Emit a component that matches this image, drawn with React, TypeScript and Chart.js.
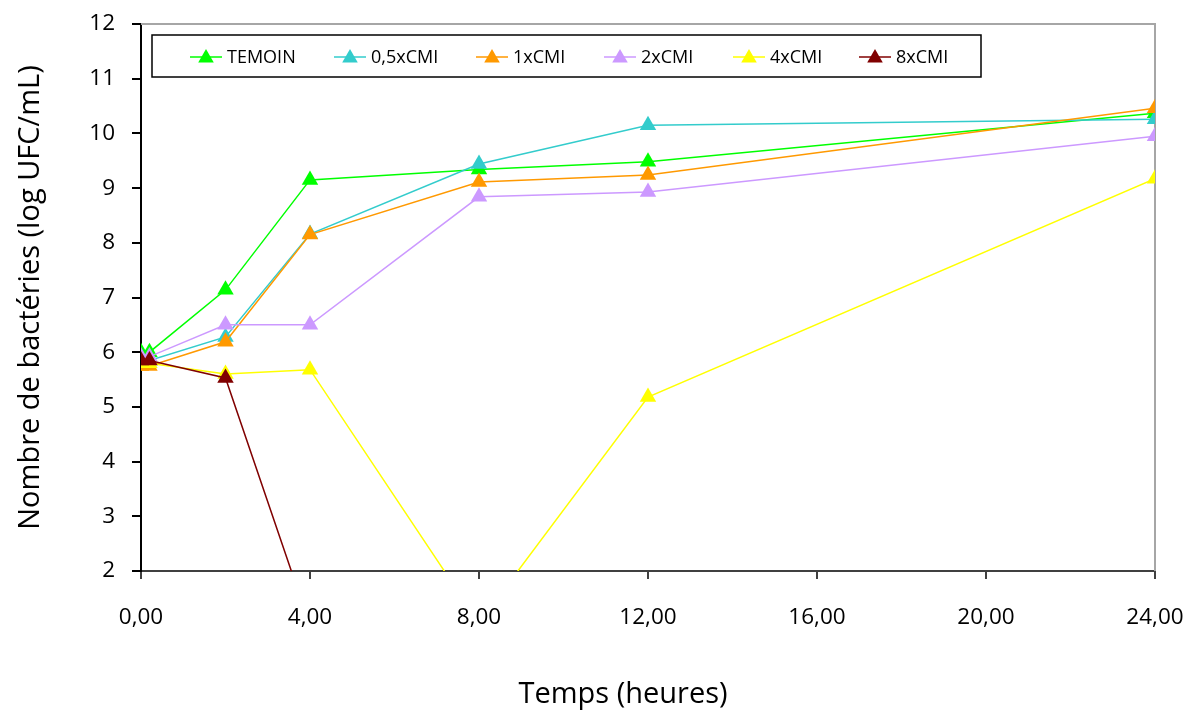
import React, { useEffect, useRef } from "react";
import { Chart, registerables } from "chart.js";

Chart.register(...registerables);

// ---- data ----
const times = [0, 0.2, 2, 4, 8, 12, 24];
const seriesNames = ["TEMOIN", "0,5xCMI", "1xCMI", "2xCMI", "4xCMI", "8xCMI"];
const temoin = [6.0, 6.0, 7.14, 9.15, 9.34, 9.48, 10.37];
const cmi05 = [5.85, 5.85, 6.28, 8.16, 9.44, 10.15, 10.26];
const cmi1 = [5.75, 5.75, 6.19, 8.15, 9.11, 9.24, 10.46];
const cmi2 = [5.92, 5.92, 6.5, 6.5, 8.84, 8.93, 9.95];
const cmi4 = [5.8, 5.8, 5.6, 5.68, 1.05, 5.18, 9.17];
const cmi8 = [5.85, 5.85, 5.53, 1.0];
const xTicks = [0, 4, 8, 12, 16, 20, 24];
const yTicks = [2, 3, 4, 5, 6, 7, 8, 9, 10, 11, 12];

const seriesValues = [temoin, cmi05, cmi1, cmi2, cmi4, cmi8];
const seriesColors = ["#00FF00", "#33CCCC", "#FF9900", "#CC99FF", "#FFFF00", "#800000"];

const FONT = "'Open Sans', 'DejaVu Sans', sans-serif";
const legendItemX = [190, 334, 476, 604, 733, 859];

function drawTriangle(ctx: CanvasRenderingContext2D, x: number, y: number, r: number, color: string) {
  ctx.beginPath();
  for (let k = 0; k < 3; k++) {
    const a = -Math.PI / 2 + (k * 2 * Math.PI) / 3;
    const px = x + r * Math.cos(a);
    const py = y + r * Math.sin(a);
    if (k === 0) ctx.moveTo(px, py);
    else ctx.lineTo(px, py);
  }
  ctx.closePath();
  ctx.fillStyle = color;
  ctx.fill();
}

const decorPlugin = {
  id: "decor",
  beforeDatasetsDraw(chart: any) {
    const { ctx, chartArea } = chart;
    ctx.save();
    ctx.strokeStyle = "#A6A6A6";
    ctx.lineWidth = 2;
    ctx.beginPath();
    ctx.moveTo(chartArea.left, chartArea.top);
    ctx.lineTo(chartArea.right, chartArea.top);
    ctx.lineTo(chartArea.right, chartArea.bottom);
    ctx.stroke();
    ctx.restore();
  },
  afterDraw(chart: any) {
    const { ctx, chartArea } = chart;
    ctx.save();
    // legend box
    const bx = 152, by = 35, bw = 981 - 152, bh = 77 - 35;
    ctx.fillStyle = "#FFFFFF";
    ctx.fillRect(bx, by, bw, bh);
    ctx.strokeStyle = "#000000";
    ctx.lineWidth = 1.5;
    ctx.strokeRect(bx, by, bw, bh);
    const cy = 57;
    ctx.font = `18px ${FONT}`;
    ctx.textBaseline = "middle";
    ctx.textAlign = "left";
    seriesNames.forEach((name, i) => {
      const x0 = legendItemX[i];
      const color = seriesColors[i];
      ctx.strokeStyle = color;
      ctx.lineWidth = 1.5;
      ctx.beginPath();
      ctx.moveTo(x0, cy);
      ctx.lineTo(x0 + 32, cy);
      ctx.stroke();
      drawTriangle(ctx, x0 + 16, cy + 1, 9, color);
      ctx.fillStyle = "#000000";
      ctx.fillText(name, x0 + 37, cy + 1);
    });
    // axis titles
    ctx.fillStyle = "#000000";
    ctx.font = `29px ${FONT}`;
    ctx.textAlign = "center";
    ctx.textBaseline = "middle";
    ctx.fillText("Temps (heures)", 623, 695);
    ctx.save();
    ctx.translate(31, (chartArea.top + chartArea.bottom) / 2);
    ctx.rotate(-Math.PI / 2);
    ctx.fillText("Nombre de bactéries (log UFC/mL)", 0, 0);
    ctx.restore();
    ctx.restore();
  },
};

export default function App() {
  const canvasRef = useRef<HTMLCanvasElement | null>(null);

  useEffect(() => {
    if (!canvasRef.current) return;
    const n = seriesNames.length;
    const datasets = seriesNames.map((name, i) => ({
      label: name,
      data: seriesValues[i].map((v, j) => ({ x: times[j], y: v })),
      borderColor: seriesColors[i],
      backgroundColor: seriesColors[i],
      pointBackgroundColor: seriesColors[i],
      pointBorderColor: seriesColors[i],
      borderWidth: 1.5,
      pointStyle: "triangle",
      pointRadius: 9.5,
      pointBorderWidth: 0,
      tension: 0,
      order: n - 1 - i,
      showLine: true,
    }));

    const chart = new Chart(canvasRef.current, {
      type: "scatter",
      data: { datasets },
      options: {
        animation: false,
        responsive: false,
        layout: { padding: { top: 24, right: 37, left: 0, bottom: 0 } },
        plugins: {
          legend: { display: false },
          tooltip: { enabled: false },
        },
        scales: {
          x: {
            type: "linear",
            min: 0,
            max: 24,
            afterBuildTicks: (scale: any) => {
              scale.ticks = xTicks.map((v) => ({ value: v }));
            },
            afterFit: (scale: any) => {
              scale.height = 717 - 571;
              scale.paddingLeft = 0;
              scale.paddingRight = 0;
            },
            ticks: {
              color: "#000000",
              font: { family: FONT, size: 22.5 },
              padding: 25,
              maxRotation: 0,
              autoSkip: false,
              callback: (v: any) => Number(v).toFixed(2).replace(".", ","),
            },
            grid: {
              drawOnChartArea: false,
              drawTicks: true,
              tickLength: 8,
              color: "#404040",
              lineWidth: 2,
            },
            border: { color: "#404040", width: 2 },
          },
          y: {
            type: "linear",
            min: 2,
            max: 12,
            afterBuildTicks: (scale: any) => {
              scale.ticks = yTicks.map((v) => ({ value: v }));
            },
            afterFit: (scale: any) => {
              scale.width = 141;
              scale.paddingTop = 0;
              scale.paddingBottom = 0;
            },
            ticks: {
              color: "#000000",
              font: { family: FONT, size: 22.5 },
              padding: 17,
              autoSkip: false,
              callback: (v: any) => String(v),
            },
            grid: {
              drawOnChartArea: false,
              drawTicks: true,
              tickLength: 9,
              color: "#000000",
              lineWidth: 2,
            },
            border: { color: "#000000", width: 2 },
          },
        },
      },
      plugins: [decorPlugin],
    });
    return () => chart.destroy();
  }, []);

  return (
    <div style={{ position: "fixed", left: 0, top: 0, width: 1192, height: 717, background: "#fff" }}>
      <canvas ref={canvasRef} width={1192} height={717} style={{ display: "block" }} />
    </div>
  );
}
